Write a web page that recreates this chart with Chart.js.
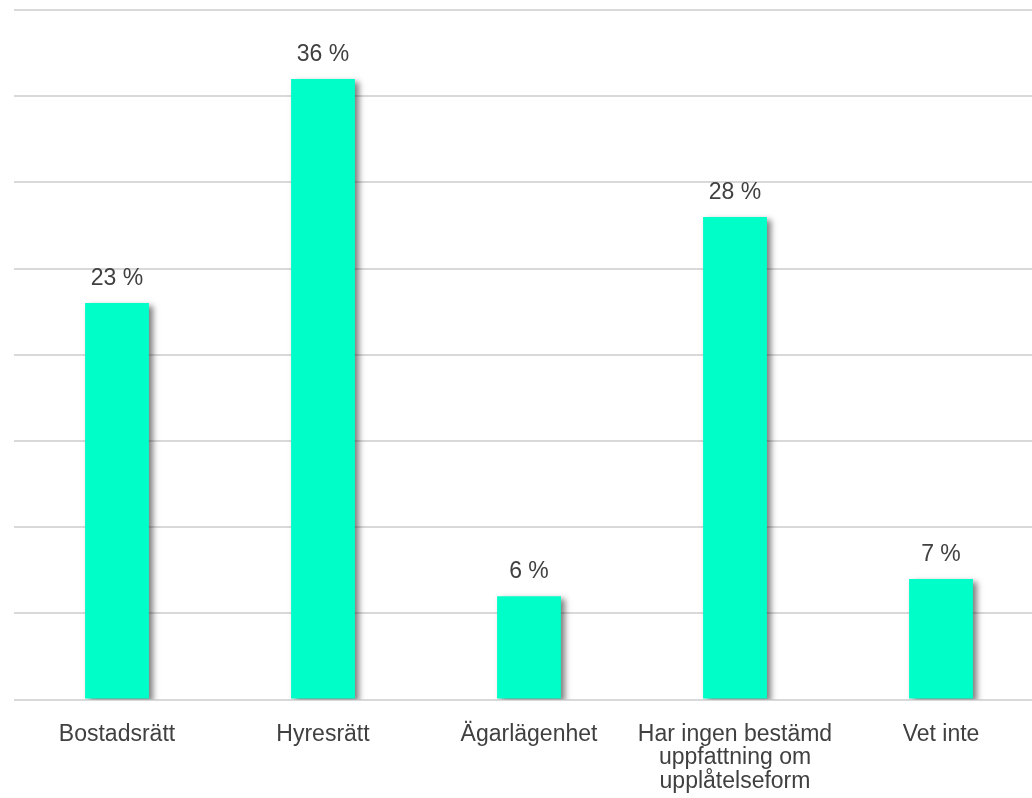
<!DOCTYPE html>
<html>
<head>
<meta charset="utf-8">
<script src="https://cdn.jsdelivr.net/npm/chart.js@4"></script>
<style>
body{
    margin:0;
    background:#fff;
    overflow:hidden;
}
#wrap{
    width:1046px;
    height:808px;
}
</style>
</head>
<body>
<div id="wrap"><canvas id="boendeChart"></canvas></div>
<script>
// andel som föredrar respektive upplåtelseform
let categories = [
    "Bostadsrätt",
    "Hyresrätt",
    "Ägarlägenhet",
    ["Har ingen bestämd", "uppfattning om", "upplåtelseform"],
    "Vet inte"
];
let shares = [23, 36, 6, 28, 7];

let textColor = "#404040";
let fontFamily = "'Liberation Sans', Arial, sans-serif";

// skugga bakom staplarna
const barShadow = {
    id:"barShadow",
    beforeDatasetsDraw(chart){
        let ctx = chart.ctx;
        ctx.save();
        ctx.shadowColor = "rgba(0,0,0,0.5)";
        ctx.shadowBlur = 6;
        ctx.shadowOffsetX = 4;
        ctx.shadowOffsetY = 3;
    },
    afterDatasetsDraw(chart){
        chart.ctx.restore();
    }
};

// procenttal ovanför varje stapel
const valueLabels = {
    id:"valueLabels",
    afterDraw(chart){
        let ctx = chart.ctx;
        let meta = chart.getDatasetMeta(0);
        ctx.save();
        ctx.font = "23px " + fontFamily;
        ctx.fillStyle = textColor;
        ctx.textAlign = "center";
        ctx.textBaseline = "alphabetic";
        meta.data.forEach((bar, i) => {
            ctx.fillText(shares[i] + " %", bar.x, bar.y - 18);
        });
        ctx.restore();
    }
};

const ctx = document.getElementById("boendeChart");

new Chart(ctx,{
    type:"bar",
    data:{
        labels:categories,
        datasets:[{
            data:shares,
            backgroundColor:"#00ffc8",
            barPercentage:0.31,
            categoryPercentage:1
        }]
    },
    options:{
        responsive:true,
        maintainAspectRatio:false,
        animation:false,
        layout:{
            padding:{left:14, top:10, right:2, bottom:0}
        },
        plugins:{
            legend:{display:false},
            tooltip:{enabled:false}
        },
        scales:{
            x:{
                grid:{display:false},
                border:{display:false},
                ticks:{
                    color:textColor,
                    padding:15,
                    maxRotation:0,
                    font:{family:fontFamily, size:23, lineHeight:1.02}
                }
            },
            y:{
                min:0,
                max:40,
                ticks:{display:false, stepSize:5},
                border:{display:false},
                grid:{color:"#d9d9d9", lineWidth:2, drawTicks:false}
            }
        }
    },
    plugins:[barShadow, valueLabels]
});
</script>
</body>
</html>
